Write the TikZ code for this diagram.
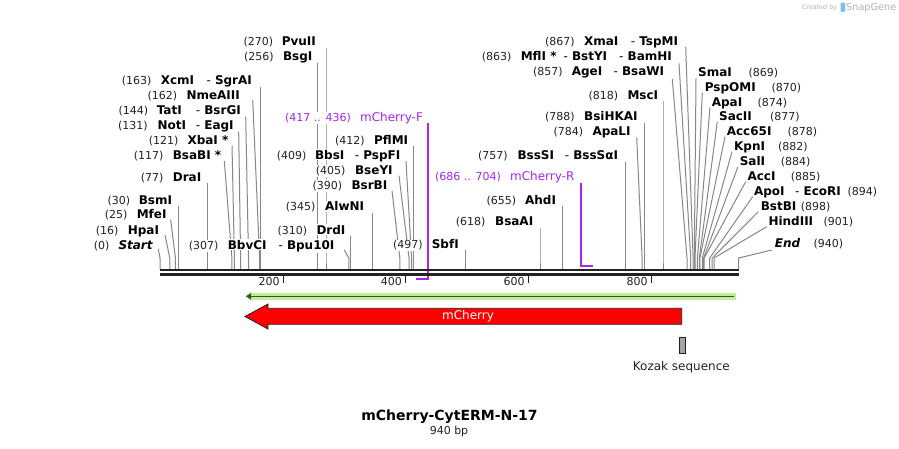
\documentclass[tikz,border=0pt]{standalone}
\usepackage{fontspec}
\setmainfont{DejaVu Sans}
\usetikzlibrary{arrows.meta}
\definecolor{leadgray}{RGB}{135,135,135}
\definecolor{numgray}{RGB}{34,34,34}
\definecolor{bargray}{RGB}{34,34,34}
\definecolor{primerc}{RGB}{166,38,240}
\definecolor{lgreen}{RGB}{190,240,150}
\definecolor{dgreen}{RGB}{60,75,50}
\definecolor{kozak}{RGB}{160,165,170}
\definecolor{sgray}{RGB}{175,178,182}
\definecolor{sblue}{RGB}{120,190,240}
\pgfdeclarelayer{back}
\pgfdeclarelayer{bg}
\pgfsetlayers{back,bg,main}
\newcommand\enz[9]{%
  \coordinate (t#1) at (#7,#8);
  \coordinate (k#1) at (#9,258);
  \coordinate (b#1) at (#9,269);
  \begin{pgfonlayer}{bg}\draw[lead] (t#1) -- (k#1) -- (b#1);\end{pgfonlayer}
  \node[nb] (n#1) at (#3,#2+4.2) {#4};
  \node[nm] (m#1) at (#5,#2+4.2) {#6};
}
\newcommand\enzx[4]{\node[nm] (#1) at (#3,#2+4.2) {{\mdseries -} #4};}
\begin{document}
\begin{tikzpicture}[x=1pt,y=-1pt,
  lbl/.style={inner xsep=0.8pt, inner ysep=1pt, outer sep=0pt, fill=white, anchor=base west},
  nm/.style={lbl, font=\fontsize{12}{14}\selectfont\bfseries, text=black},
  nb/.style={lbl, font=\fontsize{11}{13}\selectfont, text=numgray},
  pnm/.style={lbl, font=\fontsize{12}{14}\selectfont, text=primerc},
  pnb/.style={lbl, font=\fontsize{11}{13}\selectfont, text=primerc},
  lead/.style={draw=leadgray, line width=1pt},
  primer/.style={draw=primerc, line width=1.8pt},
  barline/.style={draw=bargray, line width=2.4pt},
  tick/.style={draw=bargray, line width=1.6pt},
  ticklbl/.style={inner sep=0pt, anchor=base east, font=\fontsize{11}{13}\selectfont, text=numgray},
  plain/.style={inner sep=0pt, font=\fontsize{12}{14}\selectfont, text=numgray}]
\useasboundingbox (0,0) rectangle (899,448);
\begin{pgfonlayer}{back}\fill[white] (0,0) rectangle (899,448);\end{pgfonlayer}

% left / middle enzymes
\enz{1}{245}{93}{(0)}{117.7}{\textit{Start}}{158.3}{249}{160}
\enz{2}{230}{95}{(16)}{127}{HpaI}{165}{235}{169.8}
\enz{3}{214.5}{104}{(25)}{136}{MfeI}{170.7}{220}{175.4}
\enz{4}{200}{106.7}{(30)}{138}{BsmI}{178.4}{206}{178.4}
\enz{5}{177}{140}{(77)}{172}{DraI}{207.3}{183.3}{207.3}
\enz{6}{155}{133}{(117)}{172}{BsaBI *}{224.3}{161}{231.9}
\enz{7}{140}{148}{(121)}{186.7}{XbaI *}{232}{145.5}{234.4}
\enz{8}{125}{117.3}{(131)}{156.7}{NotI}{238.7}{131.7}{240.6}
\enzx{m8b}{125}{195}{EagI}
\enz{9}{110}{117.7}{(144)}{156}{TatI}{245.7}{116.7}{248.5}
\enzx{m9b}{110}{195}{BsrGI}
\enz{10}{95}{146.7}{(162)}{185.7}{NmeAIII}{252.7}{100}{259.6}
\enz{11}{80}{121}{(163)}{160}{XcmI}{260.2}{86.7}{260.2}
\enzx{m11b}{80}{205.7}{SgrAI}
\enz{12}{56}{243.3}{(256)}{282.3}{BsgI}{317.4}{62.7}{317.4}
\enz{13}{41.7}{242.7}{(270)}{281}{PvuII}{326}{48.3}{326}
\enz{14}{245}{188}{(307)}{227}{BbvCI}{344.3}{250}{348.8}
\enzx{m14b}{245}{277.7}{Bpu10I}
\enz{15}{230}{276.7}{(310)}{315.7}{DrdI}{350.6}{236}{350.6}
\enz{16}{206.7}{285}{(345)}{324.3}{AlwNI}{372.1}{212.7}{372.1}
\enz{17}{185}{311.7}{(390)}{350.7}{BsrBI}{392}{190.7}{399.8}
\enz{18}{170}{315}{(405)}{354.3}{BseYI}{399}{175.7}{409}
\enz{19}{155}{276}{(409)}{314.3}{BbsI}{406}{161}{411.5}
\enzx{m19b}{155}{354}{PspFI}
\enz{20}{140}{334.3}{(412)}{373.3}{PflMI}{413.3}{146}{413.3}
\enz{21}{244.7}{392.3}{(497)}{431}{SbfI}{465.6}{250}{465.6}
\enz{22}{221.7}{455}{(618)}{494.3}{BsaAI}{540}{227.7}{540}
\enz{23}{200}{485.7}{(655)}{524.3}{AhdI}{562.8}{206}{562.8}
\enz{24}{155}{477.3}{(757)}{516.7}{BssSI}{625.5}{161.7}{625.5}
\enzx{m24b}{155}{564}{BssSαI}
\enz{25}{131.7}{552.7}{(784)}{591.7}{ApaLI}{636.7}{137.3}{642.1}
\enz{26}{116.7}{544.3}{(788)}{583.3}{BsiHKAI}{644.5}{123.3}{644.5}
\enz{27}{95}{587.7}{(818)}{626.7}{MscI}{663}{100.7}{663}
\enz{28}{71.7}{532.3}{(857)}{571}{AgeI}{672.3}{79}{687}
\enzx{m28b}{71.7}{612.7}{BsaWI}
\enz{29}{56.7}{481}{(863)}{520}{MflI *}{679}{63.3}{690.7}
\enzx{m29b}{56.7}{562.7}{BstYI}
\enzx{m29c}{56.7}{618.3}{BamHI}
\enz{30}{41.7}{544.3}{(867)}{583.3}{XmaI}{685.7}{47}{693.1}
\enzx{m30b}{41.7}{630}{TspMI}
% right enzymes
\enz{31}{72.7}{747.7}{(869)}{697.3}{SmaI}{696}{78.3}{694.3}
\enz{32}{87.3}{770.7}{(870)}{704}{PspOMI}{702.3}{92.7}{695}
\enz{33}{102.3}{756.7}{(874)}{711}{ApaI}{710}{107.3}{697.4}
\enz{34}{116.7}{769.3}{(877)}{718.3}{SacII}{717.3}{121.7}{699.3}
\enz{35}{131.7}{786.7}{(878)}{726}{Acc65I}{725}{136.7}{699.9}
\enz{36}{146.7}{777.3}{(882)}{733.3}{KpnI}{732}{151.7}{702.3}
\enz{37}{161.7}{780}{(884)}{739}{SalI}{738}{166.7}{703.6}
\enz{38}{176.7}{790}{(885)}{746.7}{AccI}{745.7}{181.7}{704.2}
\enz{39}{191.7}{846.7}{(894)}{753.3}{ApoI}{752.7}{196.7}{709.7}
\enzx{m39b}{191.7}{794.3}{EcoRI}
\enz{40}{206.7}{800}{(898)}{760}{BstBI}{758.3}{211.7}{712.2}
\enz{41}{221.7}{822.7}{(901)}{767.7}{HindIII}{766.7}{226.7}{714}
\enz{42}{243.3}{812.7}{(940)}{774}{\textit{End}}{771.7}{250}{738.7}

% primers
\node[pnb] (pfn) at (284.3,121.5) {(417 .. 436)};
\node[pnm] (pfm) at (359.3,121.5) {mCherry-F};
\coordinate (pft) at (428.3,123.3);
\coordinate (pfb) at (428.3,279);
\coordinate (pfe) at (416.4,279);
\begin{pgfonlayer}{bg}\draw[primer] (pft) -- (pfb) -- (pfe);\end{pgfonlayer}
\node[pnb] (prn) at (434.3,180.9) {(686 .. 704)};
\node[pnm] (prm) at (509.3,180.9) {mCherry-R};
\coordinate (prt) at (580.7,183.3);
\coordinate (prb) at (580.7,265.7);
\coordinate (pre) at (592.5,265.7);
\begin{pgfonlayer}{bg}\draw[primer] (prt) -- (prb) -- (pre);\end{pgfonlayer}

% sequence bar
\coordinate (barL) at (160,270.2);
\coordinate (barR) at (738.7,270.2);
\draw[barline] (barL) -- (barR);
\draw[barline] ([yshift=-4.1pt]barL) -- ([yshift=-4.1pt]barR);
\foreach \p/\x in {200/283.3,400/405.5,600/528.3,800/651.3}{
  \coordinate (tk\p) at (\x,276);
  \draw[tick] (tk\p) -- ++(0,6.5);
  \node[ticklbl] (tl\p) at (\x-3.5,285.7) {\p};
}

% features
\draw[lgreen, line width=7pt] (736,296.3) -- (250,296.3);
\fill[lgreen] (251.5,291.3) -- (245,296.3) -- (251.5,301.3) -- cycle;
\draw[dgreen, line width=1.6pt, -{Triangle[length=5pt,width=6pt]}] (734,296.3) -- (246,296.3);

\draw[draw=bargray, line width=0.8pt, fill=red] (245,316.5) -- (268,304) -- (268,308.3) -- (681.7,308.3) -- (681.7,324.3) -- (268,324.3) -- (268,329) -- cycle;
\node[inner sep=0pt, font=\fontsize{12}{14}\selectfont, text=white] (mch) at (468,316.5) {mCherry};

\draw[draw=bargray, line width=0.8pt, fill=kozak] (679.3,337.3) rectangle (685.7,353.3);
\node[plain] (koz) at (681.3,366.7) {Kozak sequence};

% title
\node[inner sep=0pt, font=\fontsize{14}{16}\selectfont\bfseries, text=black] (title) at (449.5,417) {mCherry-CytERM-N-17};
\node[inner sep=0pt, font=\fontsize{11}{13}\selectfont, text=numgray] (bp) at (449,431) {940 bp};

% credit
\node[inner sep=0pt, anchor=base west, font=\fontsize{6.4}{8}\selectfont, text=sgray] (cr) at (801.7,9.5) {Created by};
\fill[sblue, rounded corners=1.2pt] (840.5,2.5) rectangle (845,12);
\node[inner sep=0pt, anchor=base west, font=\fontsize{9.7}{11}\selectfont, text=sgray] (sg) at (846,10.5) {SnapGene};
\end{tikzpicture}
\end{document}
